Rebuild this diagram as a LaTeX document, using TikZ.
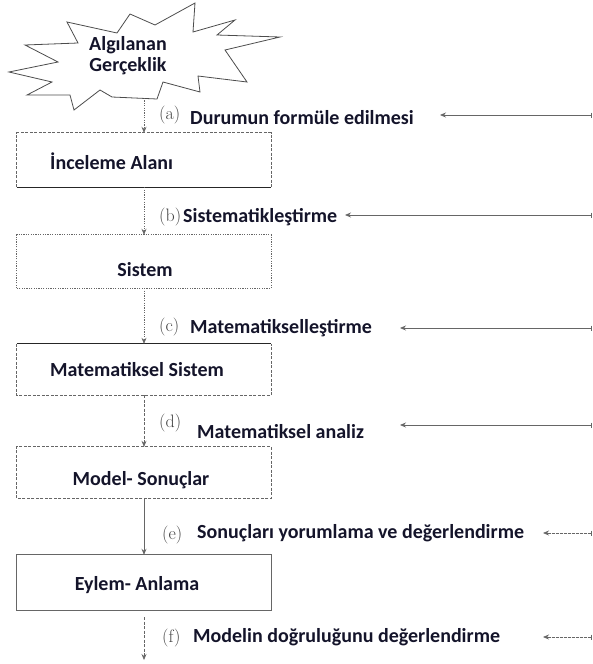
\documentclass[tikz,border=0pt]{standalone}
\usepackage{fontspec}
\setsansfont{Carlito}
\usetikzlibrary{arrows.meta}

\definecolor{ink}{HTML}{14142A}
\definecolor{linegray}{HTML}{666666}
\definecolor{taggray}{HTML}{444444}

\tikzset{
  every picture/.style={x=1pt, y=-1pt},
  boxtext/.style={font=\sffamily\bfseries\fontsize{20}{21}\selectfont, text=ink, inner sep=0pt},
  lbl/.style={boxtext, anchor=west},
  tag/.style={font=\rmfamily\fontsize{18}{20}\selectfont, text=taggray, inner sep=0pt, anchor=west},
  frame/.style={minimum width=254pt, inner sep=0pt, draw=none},
  tip/.style={-{Stealth[length=6pt, width=5pt]}},
  dotline/.style={draw=linegray, line width=0.7pt, dash pattern=on 1.2pt off 1.2pt},
  dashline/.style={draw=linegray, line width=0.7pt, dash pattern=on 3pt off 1.5pt},
  solidgray/.style={draw=linegray, line width=0.8pt},
  solidblack/.style={draw=black!85, line width=1.2pt},
  feed/.style={draw=linegray, line width=0.8pt, {Bar[width=5pt]}-{Stealth[length=6pt, width=5pt]}},
  feeddash/.style={feed, dash pattern=on 3pt off 1pt},
  starline/.style={draw=black!70, line width=0.8pt, line join=miter},
}

\begin{document}
\begin{tikzpicture}
\useasboundingbox (0,0) rectangle (592,664);

% starburst with its caption
\draw[starline] (67,22) -- (117,33) -- (130,14) -- (155,25) -- (195,3) -- (193,32)
  -- (235,20) -- (217,35) -- (280,37) -- (225,50) -- (247,82) -- (198,76)
  -- (200,92) -- (163,82) -- (157,99) -- (112,97) -- (100,90) -- (74,110)
  -- (70,95) -- (27,95) -- (52,82) -- (9,72) -- (58,62) -- (25,45) -- (78,43) -- cycle;
\node[boxtext, align=center] (real) at (128,56) {Algılanan\\Gerçeklik};
\coordinate (s0) at (144,98);

% stage boxes
\node[frame, minimum height=54pt] (b1) at (144,160) {};
\node[frame, minimum height=53pt] (b2) at (144,261.5) {};
\node[frame, minimum height=51pt] (b3) at (144,369.5) {};
\node[frame, minimum height=51pt] (b4) at (144,472.5) {};
\node[frame, minimum height=55pt] (b5) at (144,582.5) {};

% box outlines, edge by edge
\draw[dashline] (b1.south west) -- (b1.north west) -- (b1.north east) -- (b1.south east);
\draw[solidblack] (b1.south west) -- (b1.south east);
\draw[dotline] (b2.south west) rectangle (b2.north east);
\draw[solidblack] (b3.north west) -- (b3.north east);
\draw[dashline] (b3.north west) -- (b3.south west) -- (b3.south east) -- (b3.north east);
\draw[dashline] (b4.south west) rectangle (b4.north east);
\draw[solidgray] (b5.south west) rectangle (b5.north east);

% box captions
\node[lbl] (t1) at (50,161) {İnceleme Alanı};
\node[boxtext] (t2) at (145,270) {Sistem};
\node[boxtext] (t3) at (137,370) {Matematiksel Sistem};
\node[boxtext] (t4) at (141,480) {Model- Sonuçlar};
\node[boxtext] (t5) at (137,585) {Eylem- Anlama};

% main downward flow
\coordinate (s6) at (144,617);
\coordinate (s7) at (144,660);
\draw[dotline, tip] (s0) -- (b1.north);
\draw[dotline, tip] (b1.south) -- (b2.north);
\draw[dotline, tip] (b2.south) -- (b3.north);
\draw[dashline, tip] (b3.south) -- (b4.north);
\draw[solidgray, tip] (b4.south) -- (b5.north);
\draw[dashline, tip] (s6) -- (s7);

% step labels
\node[tag] (ta) at (159,115) {(a)};
\node[lbl] (la) at (190,118) {Durumun formüle edilmesi};
\node[tag] (tb) at (159,217) {(b)};
\node[lbl] (lb) at (183,217) {Sistematikleştirme};
\node[tag] (tc) at (159,327) {(c)};
\node[lbl] (lc) at (190,328) {Matematikselleştirme};
\node[tag] (td) at (159,423) {(d)};
\node[lbl] (ld) at (197,432) {Matematiksel analiz};
\node[tag] (te) at (162,535) {(e)};
\node[lbl] (le) at (197,533) {Sonuçları yorumlama ve değerlendirme};
\node[tag] (tf) at (162,638) {(f)};
\node[lbl] (lf) at (193,637) {Modelin doğruluğunu değerlendirme};

% feedback arrows entering from the right
\coordinate (ra) at (592,115);  \coordinate (ea) at (440,115);
\coordinate (rb) at (592,215);  \coordinate (eb) at (345,215);
\coordinate (rc) at (592,328);  \coordinate (ec) at (400,328);
\coordinate (rd) at (592,425);  \coordinate (ed) at (400,425);
\coordinate (re) at (592,533);  \coordinate (ee) at (543,533);
\coordinate (rf) at (592,637);  \coordinate (ef) at (543,637);
\draw[feed] (ra) -- (ea);
\draw[feed] (rb) -- (eb);
\draw[feed] (rc) -- (ec);
\draw[feed] (rd) -- (ed);
\draw[feeddash] (re) -- (ee);
\draw[feeddash] (rf) -- (ef);
\end{tikzpicture}
\end{document}
